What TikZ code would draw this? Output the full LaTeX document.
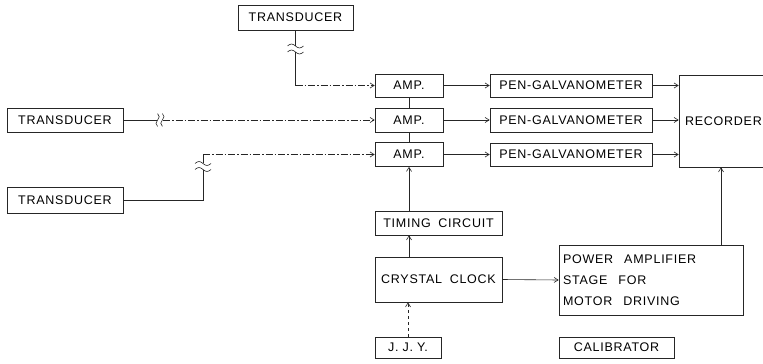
\documentclass[tikz,border=0pt]{standalone}
\usepackage{fontspec}
\newfontfamily\lettering[LetterSpace=6,WordSpace=1.8]{Liberation Sans}
\usepackage{tikz}
\usetikzlibrary{arrows.meta,calc}

\tikzset{
    blockbox/.style={draw=black!85, line width=0.7pt, inner sep=0pt, font=\lettering\fontsize{12.5pt}{14pt}\selectfont},
    wire/.style={draw=black!85, line width=0.6pt},
    sig/.style={wire, dash pattern=on 7pt off 2pt on 1.5pt off 2pt},
    >={Straight Barb[length=4pt,width=5pt]},
    pics/tildes/.style={code={
        \foreach \d in {-3,3} {
            \draw[wire] (-8,\d) sin (-4,\d-2) cos (0,\d) sin (4,\d+2) cos (8,\d);
        }
    }}
}

\begin{document}
\begin{tikzpicture}[x=1pt,y=-1pt]
    \useasboundingbox[fill=white] (0,0) rectangle (763,364);

    % transducers
    \node[blockbox, minimum width=115pt, minimum height=25pt] (tdtop) at (295.5,17.5) {TRANSDUCER};
    \node[blockbox, minimum width=116pt, minimum height=24pt] (tdmid) at (65,120) {TRANSDUCER};
    \node[blockbox, minimum width=116pt, minimum height=26pt] (tdbot) at (65,200) {TRANSDUCER};

    % amplifiers and galvanometers
    \node[blockbox, minimum width=68pt, minimum height=23pt] (amp1) at (409,85.5) {AMP.};
    \node[blockbox, minimum width=68pt, minimum height=24pt] (amp2) at (409,120) {AMP.};
    \node[blockbox, minimum width=68pt, minimum height=24pt] (amp3) at (409,154.5) {AMP.};
    \node[blockbox, minimum width=162pt, minimum height=23pt] (pg1) at (571,85.5) {PEN-GALVANOMETER};
    \node[blockbox, minimum width=162pt, minimum height=24pt] (pg2) at (571,120) {PEN-GALVANOMETER};
    \node[blockbox, minimum width=162pt, minimum height=23pt] (pg3) at (571,154.5) {PEN-GALVANOMETER};
    \node[blockbox, inner xsep=6pt, text width=109pt, align=left, minimum height=92pt] (rec) at (739.5,121) {RECORDER};

    % clock chain
    \node[blockbox, minimum width=127pt, minimum height=24pt] (timing) at (438.5,223) {TIMING CIRCUIT};
    \node[blockbox, minimum width=127pt, minimum height=45pt] (crystal) at (438.5,279.5) {CRYSTAL CLOCK};
    \node[blockbox, minimum width=66pt, minimum height=21pt] (jjy) at (408,347.5) {J.\hspace{4pt}J.\hspace{4pt}Y.};
    \node[blockbox, inner xsep=4pt, text width=176pt, align=left, minimum height=70pt] (power) at (651,280)
        {POWER\hspace{11pt}AMPLIFIER\\[7pt]STAGE\hspace{11pt}FOR\\[7pt]MOTOR\hspace{11pt}DRIVING};
    \node[blockbox, minimum width=115pt, minimum height=21pt] (calib) at (616.5,347.5) {CALIBRATOR};

    % break points on the transducer lines
    \coordinate (bkt1) at (295.5,46);
    \coordinate (bkt2) at (295.5,52);
    \coordinate (bkm1) at (157,120);
    \coordinate (bkm2) at (163,120);
    \coordinate (bkb1) at (203,170);
    \coordinate (bkb2) at (203,163);

    \draw[wire] (tdtop.south) -- (bkt1);
    \pic at (295.5,49) {tildes};
    \draw[wire] (bkt2) -- (bkt2 |- amp1.west) coordinate (cnt);
    \draw[sig,->] (cnt) -- (amp1.west);

    \draw[wire] (tdmid.east) -- (bkm1);
    \pic[rotate=90, scale=0.8] at (160,120) {tildes};
    \draw[sig,->] (bkm2) -- (amp2.west);

    \draw[wire] (tdbot.east) -| (bkb1);
    \pic at (203,166.5) {tildes};
    \draw[wire] (bkb2) -- (bkb2 |- amp3.west) coordinate (cnb);
    \draw[sig,->] (cnb) -- (amp3.west);

    % amp -> galvanometer -> recorder
    \foreach \i in {1,2,3} {
        \draw[wire,->] (amp\i.east) -- (pg\i.west);
        \draw[wire,->] (pg\i.east) -- (pg\i.east -| rec.west);
    }
    \draw[wire] (amp1.south) -- (amp2.north);
    \draw[wire] (amp2.south) -- (amp3.north);

    \draw[wire,->] (amp3.south |- timing.north) -- (amp3.south);
    \draw[wire,->] (amp3.south |- crystal.north) -- (amp3.south |- timing.south);
    \draw[wire,dashed,->] (jjy.north) -- (jjy.north |- crystal.south);
    \draw[wire,->] (crystal.east) -- (power.west);
    \draw[wire,->] ([xshift=70pt]power.north) -- ([xshift=70pt]power.north |- rec.south);
\end{tikzpicture}
\end{document}
